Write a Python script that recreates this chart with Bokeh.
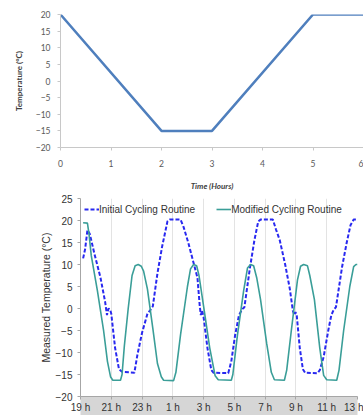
from bokeh.plotting import figure
from bokeh.layouts import column
from bokeh.models import FixedTicker, Range1d, Legend
from bokeh.embed import file_html
from bokeh.resources import INLINE

# ---- top chart data (programmed cycle) ----
top_hours = [0, 2, 3, 5, 6]
top_temp = [20, -15, -15, 20, 20]
top_xticks = [0, 1, 2, 3, 4, 5, 6]
top_yticks = [-20, -15, -10, -5, 0, 5, 10, 15, 20]

# ---- bottom chart data (hours after 19 h) ----
initial_t = [0.17, 0.3, 0.45, 0.6, 0.9, 1.3, 1.6, 1.72, 1.82, 1.92, 2.0, 2.25, 2.5, 2.7, 3.5,
             3.7, 4.0, 4.35, 4.55, 4.7, 5.0, 5.3, 5.65, 5.8, 6.5, 6.7, 7.0, 7.3, 7.6, 7.75,
             7.82, 7.9, 8.0, 8.25, 8.5, 8.65, 9.6, 9.8, 10.05, 10.3, 10.5, 10.65, 11.0, 11.3,
             11.55, 11.7, 12.5, 12.7, 12.95, 13.3, 13.6, 13.8, 13.9, 13.97, 14.05, 14.25,
             14.45, 14.6, 15.4, 15.55, 15.8, 16.1, 16.3, 16.45, 16.6, 17.0, 17.3, 17.55,
             17.75, 18.0]
initial_v = [11.4, 13.5, 17.8, 17.0, 12.5, 7.0, 1.5, -1.5, 0.0, -0.2, -1.2, -9.0, -13.8, -14.4, -14.6,
             -10.5, -5.5, -1.2, -0.3, 0.5, 8.0, 14.0, 19.8, 20.2, 20.2, 18.5, 15.0, 11.0, 7.0, 0.5,
             -1.5, -0.5, -2.0, -9.0, -14.0, -14.6, -14.7, -12.0, -6.0, -1.5, -0.2, 0.3, 9.0, 15.5,
             19.8, 20.2, 20.2, 18.0, 15.5, 10.0, 4.5, -0.5, -1.5, -0.8, -1.5, -9.0,
             -13.8, -14.6, -14.7, -14.0, -11.0, -5.0, -1.5, -0.3, 0.3, 9.5, 15.0, 19.0,
             20.2, 20.2]

modified_t = [0.17, 0.45, 0.55, 0.7, 1.1, 1.5, 1.75, 1.95, 2.1, 2.6, 2.7, 2.85, 3.1, 3.35, 3.55,
              3.75, 3.95, 4.1, 4.35, 4.7, 5.0, 5.25, 5.4, 6.05, 6.2, 6.5, 6.95, 7.15, 7.35, 7.55,
              7.7, 8.0, 8.4, 8.75, 8.95, 9.8, 9.9, 10.2, 10.6, 10.85, 11.05, 11.25, 11.45, 11.7,
              12.1, 12.4, 12.6, 13.25, 13.4, 13.7, 14.1, 14.3, 14.5, 14.75, 14.9, 15.2, 15.55,
              15.8, 16.0, 16.65, 16.8, 17.1, 17.5, 17.75, 17.9, 18.0]
modified_v = [19.5, 19.4, 17.0, 12.0, 4.0, -5.0, -12.0, -15.5, -16.3, -16.3, -15.0, -8.5, 0.0, 7.5, 9.7,
              10.0, 9.6, 8.5, 4.4, -4.5, -12.5, -15.5, -16.3, -16.4, -14.5, -6.0, 5.0, 9.0, 10.0, 9.7,
              7.5, 0.5, -9.0, -15.3, -16.2, -16.3, -15.0, -6.0, 4.0, 9.2, 10.0, 9.7, 7.0, 2.0,
              -8.0, -14.5, -16.2, -16.3, -14.0, -5.0, 6.5, 9.6, 10.0, 9.7, 7.5, 2.0, -9.0,
              -15.2, -16.2, -16.3, -14.0, -5.0, 5.0, 9.5, 10.0, 10.0]

clock_ticks = [0, 2, 4, 6, 8, 10, 12, 14, 16, 18]
clock_labels = ["19 h", "21 h", "23 h", "1 h", "3 h", "5 h", "7 h", "9 h", "11 h", "13 h"]
bottom_yticks = [-20, -15, -10, -5, 0, 5, 10, 15, 20, 25]

# ---------------- top figure ----------------
p1 = figure(width=363, height=193, x_range=Range1d(0, 6), y_range=Range1d(-20, 20),
            output_backend="svg", toolbar_location=None,
            min_border_left=60, min_border_right=0, min_border_top=14, min_border_bottom=40)
p1.outline_line_color = None
p1.grid.visible = False
p1.line(top_hours, top_temp, line_color="#4f7fbd", line_width=2.5)

for ax in (p1.xaxis, p1.yaxis):
    ax.axis_line_color = "#c8c8c8"
    ax.major_tick_line_color = "#c8c8c8"
    ax.minor_tick_line_color = None
    ax.major_tick_in = 0
    ax.major_tick_out = 3
    ax.major_label_text_font = "Lato"
    ax.major_label_text_font_size = "8.5px"
    ax.major_label_text_color = "#595959"
    ax.axis_label_text_font = "Lato"
    ax.axis_label_text_font_size = "8px"
    ax.axis_label_text_color = "#404040"
    ax.axis_label_text_font_style = "bold"
p1.xaxis.ticker = FixedTicker(ticks=top_xticks)
p1.yaxis.ticker = FixedTicker(ticks=top_yticks)
p1.xaxis.axis_label = "Time (Hours)"
p1.xaxis.axis_label_text_font_style = "bold italic"
p1.xaxis.major_label_standoff = 9
p1.xaxis.axis_label_standoff = 11
p1.yaxis.axis_label = "Temperature (°C)"
p1.yaxis.major_label_standoff = 7
p1.yaxis.axis_label_standoff = 9

# ---------------- bottom figure ----------------
p2 = figure(width=363, height=222, x_range=Range1d(0, 18), y_range=Range1d(-20, 25),
            output_backend="svg", toolbar_location=None,
            min_border_left=80, min_border_right=6, min_border_top=5, min_border_bottom=15)
p2.outline_line_color = None
p2.ygrid.visible = False
p2.xgrid.grid_line_color = "#e3e3e3"

r1 = p2.line(initial_t, initial_v, line_color="#2828f0", line_width=2, line_dash="4 2")
r2 = p2.line(modified_t, modified_v, line_color="#3a9e98", line_width=1.6)

for ax in (p2.xaxis, p2.yaxis):
    ax.axis_line_color = "#a6a6a6"
    ax.major_tick_line_color = "#a6a6a6"
    ax.minor_tick_line_color = None
    ax.major_tick_in = 0
    ax.major_tick_out = 3
    ax.major_label_text_font = "Liberation Sans"
    ax.major_label_text_font_size = "10px"
    ax.major_label_text_color = "#333333"
    ax.axis_label_text_font = "Liberation Sans"
    ax.axis_label_text_font_size = "10.5px"
    ax.axis_label_text_color = "#333333"
    ax.axis_label_text_font_style = "normal"
p2.xaxis.ticker = FixedTicker(ticks=clock_ticks)
p2.xaxis.major_label_overrides = dict(zip(clock_ticks, clock_labels))
p2.xaxis.major_label_standoff = 2
p2.xaxis.background_fill_color = "#d6d6d6"
p2.yaxis.ticker = FixedTicker(ticks=bottom_yticks)
p2.yaxis.major_label_standoff = 5
p2.yaxis.axis_label = "Measured Temperature (°C)"
p2.yaxis.axis_label_standoff = 1

legend = Legend(items=[("Initial Cycling Routine", [r1]), ("Modified Cycling Routine", [r2])],
                location=(4, 181), orientation="horizontal")
legend.border_line_color = None
legend.background_fill_alpha = 0
legend.label_text_font = "Liberation Sans"
legend.label_text_font_size = "10px"
legend.label_text_color = "#333333"
legend.glyph_width = 15
legend.glyph_height = 12
legend.label_standoff = 0
legend.spacing = 21
legend.margin = 0
legend.padding = 3
p2.add_layout(legend)

for p in (p1, p2):
    try:
        p.frame_align = False
    except Exception:
        pass

layout = column(p1, p2, spacing=0)
open("out.html", "w").write(file_html(layout, INLINE))
